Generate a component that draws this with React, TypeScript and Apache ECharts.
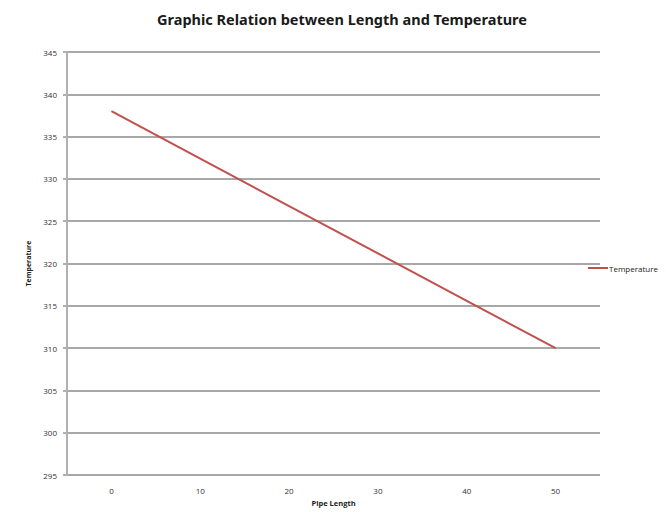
import React, { useEffect, useRef } from "react";
import * as echarts from "echarts";

const pipeLength = ["0", "10", "20", "30", "40", "50"];
const temperature = [338, 332.4, 326.8, 321.2, 315.6, 310];
const yMin = 295;
const yMax = 345;
const yStep = 5;

export default function App() {
  const ref = useRef<HTMLDivElement>(null);
  useEffect(() => {
    if (!ref.current) return;
    const chart = echarts.init(ref.current, null, { renderer: "svg" });
    chart.setOption({
      animation: false,
      backgroundColor: "#ffffff",
      title: {
        text: "Graphic Relation between Length and Temperature",
        left: 337,
        textAlign: "center",
        top: 6,
        textStyle: {
          fontFamily: "Noto Sans",
          fontWeight: "bold",
          fontSize: 14.5,
          color: "#1a1a1a",
        },
      },
      legend: {
        data: ["Temperature"],
        orient: "vertical",
        left: 588,
        top: 264,
        padding: 0,
        itemWidth: 20,
        itemHeight: 2,
        itemGap: 4,
        icon: "rect",
        textStyle: { fontFamily: "Open Sans", fontSize: 8, color: "#222", padding: [0, 0, 0, -4] },
      },
      grid: { left: 67, right: 66, top: 52, bottom: 30, containLabel: false },
      xAxis: {
        type: "category",
        data: pipeLength,
        boundaryGap: true,
        name: "Pipe Length",
        nameLocation: "middle",
        nameGap: 21,
        nameTextStyle: { fontFamily: "Open Sans", fontWeight: "bold", fontSize: 7.5, color: "#222" },
        axisLine: { show: false },
        axisTick: { show: false },
        axisLabel: { fontFamily: "Open Sans", fontSize: 8, color: "#333", margin: 11 },
      },
      yAxis: {
        type: "value",
        min: yMin,
        max: yMax,
        interval: yStep,
        name: "Temperature",
        nameLocation: "middle",
        nameGap: 35,
        nameTextStyle: { fontFamily: "Open Sans", fontWeight: "bold", fontSize: 7, color: "#222" },
        axisLine: { show: true, lineStyle: { color: "#b0b0b0", width: 2 } },
        axisTick: { show: true, length: 4, lineStyle: { color: "#b0b0b0", width: 2 } },
        axisLabel: { fontFamily: "Open Sans", fontSize: 8, color: "#333", margin: 10 },
        splitLine: { show: true, lineStyle: { color: "#a8a8a8", width: 2 } },
      },
      series: [
        {
          name: "Temperature",
          type: "line",
          data: temperature,
          symbol: "none",
          lineStyle: { color: "#c0504d", width: 2 },
          itemStyle: { color: "#c0504d" },
        },
      ],
    });
    return () => chart.dispose();
  }, []);
  return <div ref={ref} style={{ width: 666, height: 512, position: "absolute", left: 0, top: 0 }} />;
}
